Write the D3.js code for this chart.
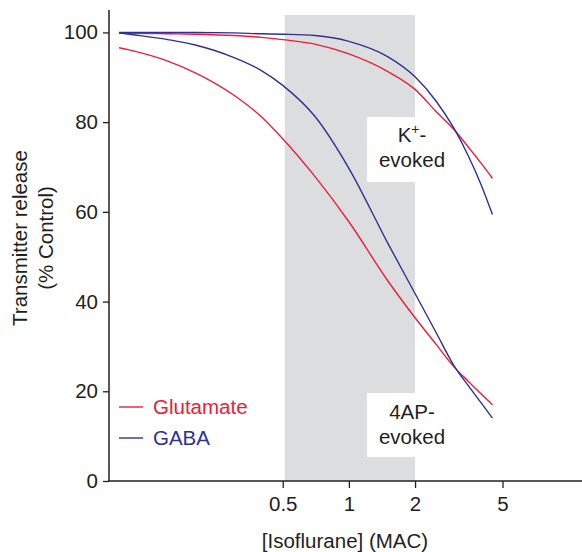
<!DOCTYPE html>
<html>
<head>
<meta charset="utf-8">
<script src="https://cdn.jsdelivr.net/npm/d3@7"></script>
<style>
  body { margin: 0; background: #fff; }
  svg { display: block; font-family: "Liberation Sans", Arial, sans-serif; }
</style>
</head>
<body>
<svg id="chart" width="582" height="552"></svg>
<script>
// 浓度 (MAC)
const doses = [0.09, 0.1, 0.15, 0.2, 0.3, 0.4, 0.5, 0.7, 1, 1.5, 2, 2.5, 3, 3.5, 4, 4.5];

// K+ 诱发
const kGlutamate = [99.8, 99.8, 99.7, 99.6, 99.3, 98.9, 98.4, 97.4, 95.2, 91.3, 87.3, 82.3, 78.4, 74.4, 70.8, 67.5];
const kGaba      = [100, 100, 100, 100, 99.9, 99.7, 99.6, 99.3, 98.0, 94.6, 90.1, 84.6, 78.7, 72.4, 66.0, 59.4];

// 4AP 诱发
const apGlutamate = [96.6, 96.1, 93.6, 91.0, 86.0, 81.2, 76.3, 67.9, 57.8, 44.7, 36.4, 30.4, 25.5, 22.2, 19.4, 17.0];
const apGaba      = [99.9, 99.6, 98.4, 97.2, 94.4, 91.5, 88.2, 81.3, 69.7, 53.1, 41.8, 33.0, 25.8, 21.2, 17.4, 14.0];

const yTicks = [0, 20, 40, 60, 80, 100];
const xTicks = [0.5, 1, 2, 5];
const band = [0.5, 2];

const red = "#e8203a";
const blue = "#2e3192";
const ink = "#231f20";
const fs = "20.5px";

const svg = d3.select("#chart");

const x = d3.scaleLog().domain([0.081, 11.5]).range([109, 582]);
const y = d3.scaleLinear().domain([0, 105]).range([481, 10]);

// 灰色区域 0.5-2 MAC
svg.append("rect")
    .attr("x", x(band[0]) + 2)
    .attr("y", 15)
    .attr("width", x(band[1]) - x(band[0]) - 2)
    .attr("height", y(0) - 15)
    .attr("fill", "#dcdddf");

// 标注底框
svg.append("rect").attr("x", 367).attr("y", 117).attr("width", 88).attr("height", 65).attr("fill", "#fff");
svg.append("rect").attr("x", 367).attr("y", 393).attr("width", 90).attr("height", 64).attr("fill", "#fff");

// 曲线
const line = d3.line()
    .x(d => x(d[0]))
    .y(d => y(d[1]))
    .curve(d3.curveMonotoneX);

const series = [
    { values: kGlutamate, color: red },
    { values: kGaba, color: blue },
    { values: apGlutamate, color: red },
    { values: apGaba, color: blue }
];

series.forEach(s => {
    svg.append("path")
        .datum(doses.map((d, i) => [d, s.values[i]]))
        .attr("fill", "none")
        .attr("stroke", s.color)
        .attr("stroke-width", 1.4)
        .attr("d", line);
});

// 坐标轴
const yAxis = svg.append("g")
    .attr("transform", "translate(109,0)")
    .call(d3.axisLeft(y).tickValues(yTicks).tickSize(6).tickPadding(5).tickSizeOuter(0));
yAxis.select(".domain").remove();
yAxis.append("line").attr("x1", 0).attr("x2", 0).attr("y1", 10).attr("y2", 481)
    .attr("stroke", ink).attr("stroke-width", 1.5);

const xAxis = svg.append("g")
    .attr("transform", "translate(0,481)")
    .call(d3.axisBottom(x).tickValues(xTicks).tickFormat(d => d).tickSize(7).tickPadding(8));
xAxis.select(".domain").remove();
xAxis.append("line").attr("x1", 108).attr("x2", 582).attr("y1", 0).attr("y2", 0)
    .attr("stroke", ink).attr("stroke-width", 1.5);

[yAxis, xAxis].forEach(g => {
    g.selectAll(".tick line").attr("stroke", ink).attr("stroke-width", 1.3);
    g.selectAll(".tick text")
        .attr("fill", ink)
        .style("font-size", fs)
        .style("font-family", "Liberation Sans, Arial, sans-serif");
});

// 轴标题
svg.append("text")
    .attr("x", 345).attr("y", 548)
    .attr("text-anchor", "middle")
    .attr("fill", ink)
    .style("font-size", fs)
    .text("[Isoflurane] (MAC)");

const yTitle = svg.append("g").attr("transform", "translate(0,238) rotate(-90)");
yTitle.append("text").attr("x", 0).attr("y", 27).attr("text-anchor", "middle")
    .attr("fill", ink).style("font-size", fs).text("Transmitter release");
yTitle.append("text").attr("x", 0).attr("y", 53).attr("text-anchor", "middle")
    .attr("fill", ink).style("font-size", fs).text("(% Control)");

// 标注文字
const kLabel = svg.append("text").attr("x", 412).attr("y", 142).attr("text-anchor", "middle")
    .attr("fill", ink).style("font-size", fs);
kLabel.append("tspan").text("K");
kLabel.append("tspan").attr("dy", -8).style("font-size", "14px").text("+");
kLabel.append("tspan").attr("dy", 8).text("-");
svg.append("text").attr("x", 412).attr("y", 167).attr("text-anchor", "middle")
    .attr("fill", ink).style("font-size", fs).text("evoked");

svg.append("text").attr("x", 412).attr("y", 419).attr("text-anchor", "middle")
    .attr("fill", ink).style("font-size", fs).text("4AP-");
svg.append("text").attr("x", 412).attr("y", 444).attr("text-anchor", "middle")
    .attr("fill", ink).style("font-size", fs).text("evoked");

// 图例
const legend = [
    { name: "Glutamate", color: red },
    { name: "GABA", color: blue }
];
legend.forEach((d, i) => {
    const ly = 407 + i * 31;
    svg.append("line").attr("x1", 119).attr("x2", 143).attr("y1", ly).attr("y2", ly)
        .attr("stroke", d.color).attr("stroke-width", 1.4);
    svg.append("text").attr("x", 153).attr("y", ly + 7)
        .attr("fill", d.color).style("font-size", fs).text(d.name);
});
</script>
</body>
</html>
